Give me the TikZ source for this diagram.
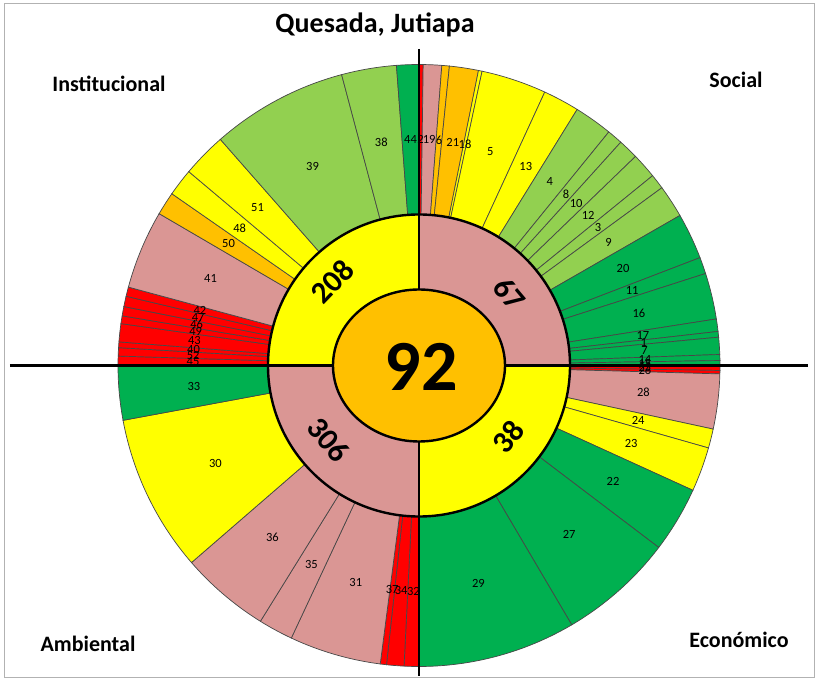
\documentclass[tikz,border=0pt]{standalone}
\usepackage{fontspec}
\setmainfont{Carlito}
\definecolor{cRed}{HTML}{FF0000}
\definecolor{cPink}{HTML}{DA9694}
\definecolor{cOrange}{HTML}{FFC000}
\definecolor{cYellow}{HTML}{FFFF00}
\definecolor{cLG}{HTML}{92D050}
\definecolor{cG}{HTML}{00B050}
\begin{document}
\begin{tikzpicture}[x=1pt,y=1pt,
  seg/.style={draw=black!72, line width=0.7pt},
  lab/.style={font=\fontsize{12.5}{12.5}\selectfont, inner sep=0pt},
  ringlab/.style={font=\fontsize{31}{31}\selectfont\bfseries, inner sep=0pt},
  corner/.style={font=\fontsize{22}{22}\selectfont\bfseries, inner sep=0pt},
  axisline/.style={line width=2.6pt, black}]
\useasboundingbox (-419,-316.5) rectangle (400,365.5);
\draw[black!30, line width=1pt] (-414,-312) rectangle (395,361.5);
\def\segs{0/0.8/cRed/2, 0.8/4.35/cPink/19, 4.35/5.8/cOrange/6, 5.8/11.4/cOrange/21,
 11.4/12.1/cYellow/18, 12.1/24.7/cYellow/5, 24.7/31.7/cYellow/13, 31.7/39.1/cLG/4,
 39.1/42.1/cLG/8, 42.1/46.0/cLG/10, 46.0/50.9/cLG/12, 50.9/53.8/cLG/3, 53.8/60.1/cLG/9,
 60.1/69.0/cG/20, 69.0/72.2/cG/11, 72.2/81.1/cG/16, 81.1/83.5/cG/17, 83.5/84.6/cG/1,
 84.6/87.9/cG/7, 87.9/89.05/cG/14, 89.05/90/cG/15,
 90/90.95/cRed/25, 90.95/91.6/cRed/26, 91.6/102.2/cPink/28, 102.2/105.9/cYellow/24,
 105.9/114.5/cYellow/23, 114.5/127.2/cG/22, 127.2/149.5/cG/27, 149.5/180/cG/29,
 180/182.85/cRed/32, 182.85/186.2/cRed/34, 186.2/187.4/cRed/37, 187.4/205.1/cPink/31,
 205.1/211.8/cPink/35, 211.8/229.1/cPink/36, 229.1/259.5/cYellow/30, 259.5/270/cG/33,
 270/271.8/cRed/45, 271.8/273.4/cRed/52, 273.4/274.5/cRed/40, 274.5/278/cRed/43,
 278/279.5/cRed/49, 279.5/281.3/cRed/46, 281.3/283.3/cRed/47, 283.3/285.1/cRed/42,
 285.1/300.3/cPink/41, 300.3/304.8/cOrange/50, 304.8/310.1/cYellow/48,
 310.1/318.7/cYellow/51, 318.7/345.1/cLG/39, 345.1/355.7/cLG/38, 355.7/360/cG/44}
% outer segments
\foreach \pa/\pb/\col/\lab in \segs {
  \pgfmathsetmacro\aa{90-\pa}
  \pgfmathsetmacro\ab{90-\pb}
  \filldraw[seg, fill=\col] (\aa:151) -- (\aa:301) arc[start angle=\aa, end angle=\ab, radius=301]
     -- (\ab:151) arc[start angle=\ab, end angle=\aa, radius=151] -- cycle;
}
% labels
\foreach \pa/\pb/\col/\lab in \segs {
  \pgfmathsetmacro\am{90-(\pa+\pb)/2}
  \node[lab] (s\lab) at (\am:226) {\lab};
}
% middle ring
\fill[cPink] (0,0) -- (90:151) arc[start angle=90, end angle=0, radius=151] -- cycle;
\fill[cYellow] (0,0) -- (0:151) arc[start angle=0, end angle=-90, radius=151] -- cycle;
\fill[cPink] (0,0) -- (-90:151) arc[start angle=-90, end angle=-180, radius=151] -- cycle;
\fill[cYellow] (0,0) -- (180:151) arc[start angle=180, end angle=90, radius=151] -- cycle;
% axes
\coordinate (vtop) at (0,316.5);
\coordinate (vbot) at (0,-310.5);
\coordinate (hleft) at (-409,0);
\coordinate (hright) at (389,0);
\draw[axisline] (vtop) -- (vbot);
\draw[axisline] (hleft) -- (hright);
\draw[line width=2.4pt] (0,0) circle[radius=151];
% ring labels
\node[ringlab, rotate=-50] (n67) at (91,72) {67};
\node[ringlab, rotate=46] (n208) at (-87,84) {208};
\node[ringlab, rotate=-50] (n306) at (-90.5,-74.5) {306};
\node[ringlab, rotate=51] (n38) at (89,-71) {38};
% centre
\filldraw[fill=cOrange, draw=black, line width=2.4pt] (0,0) ellipse[x radius=86, y radius=76];
\node[font=\fontsize{72}{72}\selectfont\bfseries, inner sep=0pt] (n92) at (2,-1) {92};
% titles
\node[font=\fontsize{28}{28}\selectfont\bfseries, inner sep=0pt] (title) at (-44,340.5) {Quesada, Jutiapa};
\node[corner] (tInst) at (-310,282) {Institucional};
\node[corner] (tSoc) at (317,286) {Social};
\node[corner] (tAmb) at (-331,-278) {Ambiental};
\node[corner] (tEco) at (320,-274) {Económico};
\end{tikzpicture}
\end{document}
